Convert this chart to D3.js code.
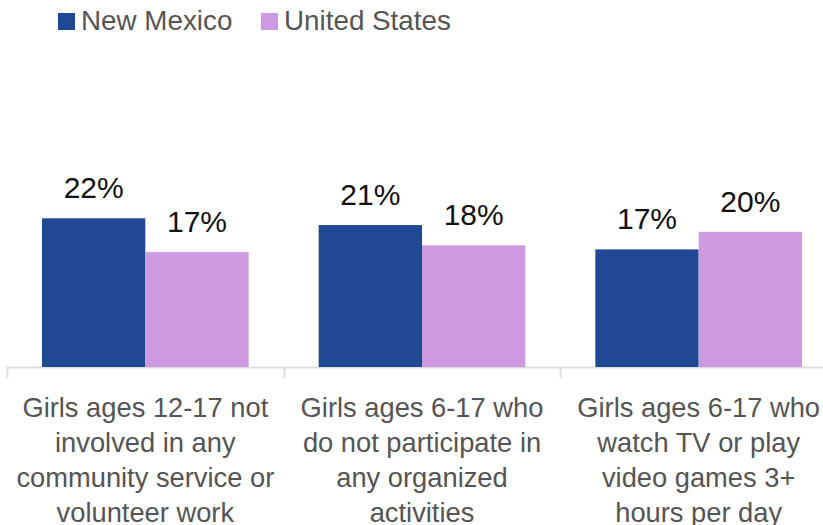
<!DOCTYPE html>
<html>
<head>
<meta charset="utf-8">
<script src="https://cdn.jsdelivr.net/npm/d3@7"></script>
<style>
  body { margin: 0; background: #fff; }
  svg { display: block; font-family: "Liberation Sans", Arial, sans-serif; }
</style>
</head>
<body>
<svg class="bar-chart" width="823" height="525"></svg>
<script>
// Data
const categories = [
    'Girls ages 12-17 not involved in any community service or volunteer work',
    'Girls ages 6-17 who do not participate in any organized activities',
    'Girls ages 6-17 who watch TV or play video games 3+ hours per day'
];
// tick labels, broken into lines as in the picture
const categoryLines = [
    ['Girls ages 12-17 not', 'involved in any', 'community service or', 'volunteer work'],
    ['Girls ages 6-17 who', 'do not participate in', 'any organized', 'activities'],
    ['Girls ages 6-17 who', 'watch TV or play', 'video games 3+', 'hours per day']
];
const seriesNames = ['New Mexico', 'United States'];
const newMexico = [22, 21, 17.4];
const unitedStates = [17, 18, 20];
const colors = ['#1f4a93', '#cd9ae1'];

const svg = d3.select('.bar-chart');
const W = 823, H = 525;
const baseline = 367;

// Scales
const x = d3.scaleBand()
    .domain(categories)
    .range([7, 837])
    .padding(0);

const xSub = d3.scaleBand()
    .domain(seriesNames)
    .range([35, x.bandwidth() - 35])
    .padding(0);

const y = d3.scaleLinear()
    .domain([0, 25])
    .range([baseline, baseline - 25 * 6.76]);

const color = d3.scaleOrdinal().domain(seriesNames).range(colors);

const rows = categories.map((c, i) => ({
    cat: c,
    values: [
        { name: seriesNames[0], value: newMexico[i] },
        { name: seriesNames[1], value: unitedStates[i] }
    ]
}));

// Axis line and band separators
svg.append('line')
    .attr('x1', 7).attr('x2', W)
    .attr('y1', baseline + 0.5).attr('y2', baseline + 0.5)
    .attr('stroke', '#dddddd')
    .attr('stroke-width', 2);

svg.selectAll('.sep')
    .data(categories)
    .join('line')
    .attr('class', 'sep')
    .attr('x1', d => Math.round(x(d)) + 0.5)
    .attr('x2', d => Math.round(x(d)) + 0.5)
    .attr('y1', baseline)
    .attr('y2', baseline + 11)
    .attr('stroke', '#dddddd')
    .attr('stroke-width', 2);

// Bars
const groups = svg.selectAll('.group')
    .data(rows)
    .join('g')
    .attr('class', 'group')
    .attr('transform', d => `translate(${x(d.cat)},0)`);

groups.selectAll('rect')
    .data(d => d.values)
    .join('rect')
    .attr('x', d => xSub(d.name))
    .attr('y', d => y(d.value))
    .attr('width', xSub.bandwidth())
    .attr('height', d => baseline - y(d.value))
    .attr('fill', d => color(d.name));

// Value labels
groups.selectAll('.val')
    .data(d => d.values)
    .join('text')
    .attr('class', 'val')
    .attr('x', d => xSub(d.name) + xSub.bandwidth() / 2)
    .attr('y', d => y(d.value) - 20)
    .attr('text-anchor', 'middle')
    .attr('font-size', 30)
    .attr('fill', '#111')
    .text(d => Math.round(d.value) + '%');

// Category labels
const labels = svg.selectAll('.cat')
    .data(categories)
    .join('text')
    .attr('class', 'cat')
    .attr('text-anchor', 'middle')
    .attr('font-size', 27.3)
    .attr('fill', '#555');

labels.each(function(d, i) {
    d3.select(this).selectAll('tspan')
        .data(categoryLines[i])
        .join('tspan')
        .attr('x', x(d) + x.bandwidth() / 2)
        .attr('y', (l, j) => 417 + j * 35)
        .text(l => l);
});

// Legend
const legend = svg.selectAll('.legend')
    .data(seriesNames)
    .join('g')
    .attr('class', 'legend')
    .attr('transform', (d, i) => `translate(${[58, 261][i]},0)`);

legend.append('rect')
    .attr('x', 0).attr('y', 13)
    .attr('width', 17).attr('height', 17)
    .attr('fill', d => color(d));

legend.append('text')
    .attr('x', 23)
    .attr('y', 30)
    .attr('font-size', 27.8)
    .attr('fill', '#555')
    .text(d => d);
</script>
</body>
</html>
